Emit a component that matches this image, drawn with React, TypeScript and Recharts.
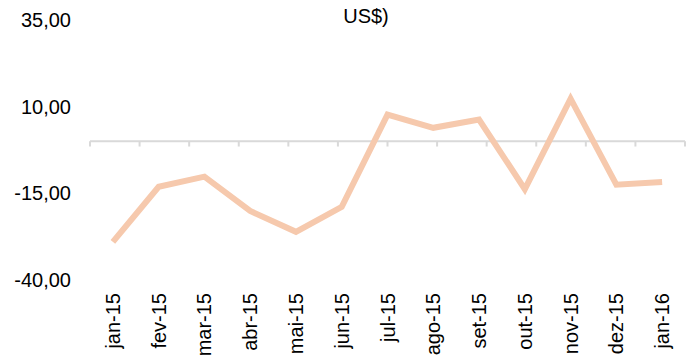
import {
  ComposedChart,
  Line,
  XAxis,
  YAxis,
  ReferenceLine,
} from 'recharts'

const months = [
  'jan-15', 'fev-15', 'mar-15', 'abr-15', 'mai-15', 'jun-15', 'jul-15',
  'ago-15', 'set-15', 'out-15', 'nov-15', 'dez-15', 'jan-16',
]
const saldo = [-29.0, -13.1, -10.2, -20.1, -26.1, -18.9, 7.7, 3.9, 6.3, -13.8, 12.3, -12.5, -11.7]
const yTicks = [-40, -15, 10, 35]
const title = 'US$)'

const data = months.map((m, i) => ({ month: m, saldo: saldo[i] }))
// band edges for the small marks hanging off the zero line
const edges = months.map((_, i) => i).concat(months.length)

const font = '"Liberation Sans", Arial, sans-serif'
const fmt = (v: number) => v.toFixed(2).replace('.', ',')

function MonthTick({ x, y, payload }: any) {
  return (
    <text
      x={x}
      y={y}
      transform={`rotate(-90, ${x}, ${y})`}
      textAnchor="end"
      dominantBaseline="central"
      fontSize={20}
      fontFamily={font}
      fill="#000"
    >
      {payload.value}
    </text>
  )
}

export default function App() {
  return (
    <div style={{ position: 'absolute', left: 0, top: 0, width: 694, height: 362, background: '#fff' }}>
      <ComposedChart
        width={694}
        height={362}
        data={data}
        margin={{ top: 20, right: 9, left: 0, bottom: 0 }}
      >
        <text x={366} y={23} textAnchor="middle" fontSize={20} fontFamily={font} fill="#000">
          {title}
        </text>
        <XAxis
          xAxisId="cat"
          dataKey="month"
          scale="band"
          height={82}
          axisLine={false}
          tickLine={false}
          tickSize={0}
          tickMargin={13}
          interval={0}
          tick={<MonthTick />}
        />
        <XAxis xAxisId="edge" type="number" domain={[0, months.length]} hide />
        <YAxis
          width={90}
          domain={[-40, 35]}
          ticks={yTicks}
          axisLine={false}
          tickLine={false}
          tickSize={0}
          tickMargin={19}
          tickFormatter={fmt}
          tick={{ fontSize: 20, fontFamily: font, fill: '#000' }}
        />
        <ReferenceLine xAxisId="edge" y={0} stroke="#d9d9d9" strokeWidth={2} />
        {edges.map((e) => (
          <ReferenceLine
            key={e}
            xAxisId="edge"
            segment={[{ x: e, y: 0 }, { x: e, y: -1.5 }]}
            stroke="#d9d9d9"
            strokeWidth={2}
          />
        ))}
        <Line
          xAxisId="cat"
          type="linear"
          dataKey="saldo"
          stroke="#f6c9ad"
          strokeWidth={6}
          dot={false}
          isAnimationActive={false}
        />
      </ComposedChart>
    </div>
  )
}
